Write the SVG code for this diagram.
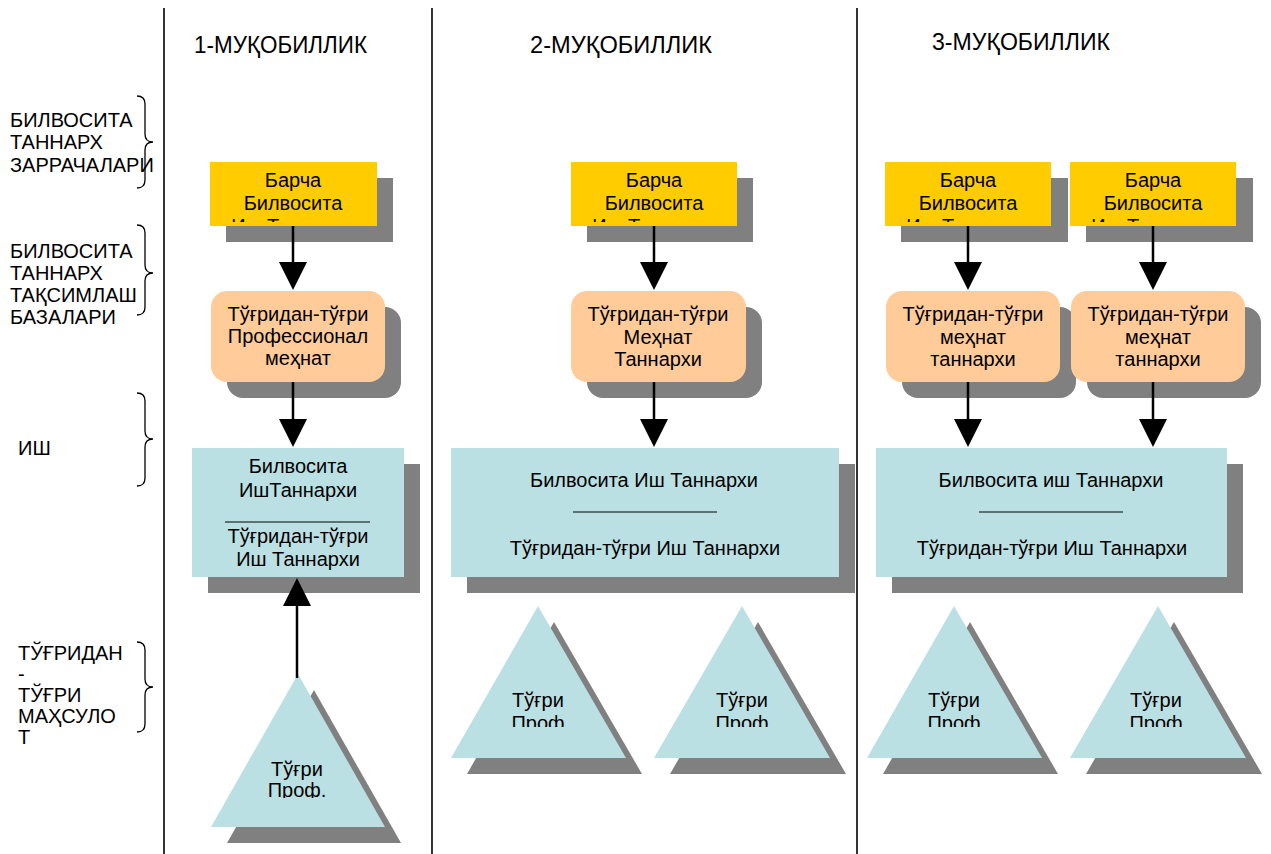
<svg xmlns="http://www.w3.org/2000/svg" width="1271" height="854" viewBox="0 0 1271 854">
  <style>
    text { font-family: "Liberation Sans", Arial, sans-serif; font-size: 20px; fill: #000; }
    .c { text-anchor: middle; }
    .head { font-size: 23px; }
    .sh { fill: #808080; }
    .yel { fill: #FFCC00; }
    .org { fill: #FFCC99; }
    .blu { fill: #BAE0E4; }
    .div { stroke: #000; stroke-width: 1.6; fill: none; }
    .brace { stroke: #000; stroke-width: 1.3; fill: none; }
    .conn { stroke: #000; stroke-width: 2.5; fill: none; marker-end: url(#head); }
  </style>
  <defs>
    <marker id="head" markerUnits="userSpaceOnUse" markerWidth="28" markerHeight="28" refX="23" refY="14" orient="auto" viewBox="0 0 28 28">
      <path d="M0,0 L28,14 L0,28 Z" fill="#000"/>
    </marker>
    <!-- text frames that cut off overflowing lines -->
    <clipPath id="clipYellow" clipPathUnits="userSpaceOnUse"><rect x="0" y="0" width="1271" height="222"/></clipPath>
    <clipPath id="clipTri1" clipPathUnits="userSpaceOnUse"><rect x="0" y="0" width="1271" height="798"/></clipPath>
    <clipPath id="clipTri2" clipPathUnits="userSpaceOnUse"><rect x="0" y="0" width="1271" height="727"/></clipPath>
  </defs>

  <!-- column dividers -->
  <g id="dividers">
    <line class="div" x1="164" y1="8" x2="164" y2="854"/>
    <line class="div" x1="432" y1="8" x2="432" y2="854"/>
    <line class="div" x1="857" y1="8" x2="857" y2="854"/>
  </g>

  <!-- column headings -->
  <g id="headings">
    <text class="head" x="194" y="53" textLength="173" lengthAdjust="spacingAndGlyphs">1-МУҚОБИЛЛИК</text>
    <text class="head" x="530" y="53" textLength="182" lengthAdjust="spacingAndGlyphs">2-МУҚОБИЛЛИК</text>
    <text class="head" x="932" y="50" textLength="178" lengthAdjust="spacingAndGlyphs">3-МУҚОБИЛЛИК</text>
  </g>

  <!-- row labels with braces -->
  <g id="row-particles">
    <text x="10" y="127">БИЛВОСИТА</text>
    <text x="10" y="149">ТАННАРХ</text>
    <text x="10" y="172">ЗАРРАЧАЛАРИ</text>
    <path class="brace" d="M137,96 Q145,96 145,104 L145,134 Q145,142 153,142 Q145,142 145,150 L145,180 Q145,188 137,188"/>
  </g>
  <g id="row-bases">
    <text x="10" y="258">БИЛВОСИТА</text>
    <text x="10" y="280">ТАННАРХ</text>
    <text x="10" y="302">ТАҚСИМЛАШ</text>
    <text x="10" y="324">БАЗАЛАРИ</text>
    <path class="brace" d="M137,225 Q145,225 145,233 L145,265 Q145,273 153,273 Q145,273 145,281 L145,307 Q145,315 137,315"/>
  </g>
  <g id="row-job">
    <text x="18" y="455">ИШ</text>
    <path class="brace" d="M137,393 Q145,393 145,401 L145,431 Q145,439 153,439 Q145,439 145,447 L145,478 Q145,486 137,486"/>
  </g>
  <g id="row-product">
    <text x="18" y="660">ТЎҒРИДАН</text>
    <text x="18" y="681">-</text>
    <text x="18" y="702">ТЎҒРИ</text>
    <text x="18" y="723">МАҲСУЛО</text>
    <text x="18" y="744">Т</text>
    <path class="brace" d="M137,642 Q145,642 145,650 L145,679 Q145,687 153,687 Q145,687 145,695 L145,724 Q145,732 137,732"/>
  </g>

  <!-- ===== alternative 1 ===== -->
  <g id="a1-pool">
    <rect class="sh" x="226" y="178" width="167" height="64"/>
    <rect class="yel" x="210" y="162" width="167" height="64"/>
    <text class="c" x="293" y="187">Барча</text>
    <text class="c" x="293" y="210">Билвосита</text>
    <text class="c" x="293" y="233" clip-path="url(#clipYellow)">Иш Таннархи</text>
  </g>
  <g id="a1-base">
    <rect class="sh" x="227" y="307" width="174" height="91" rx="16"/>
    <rect class="org" x="211" y="291" width="174" height="91" rx="16"/>
    <text class="c" x="298" y="321">Тўғридан-тўғри</text>
    <text class="c" x="298" y="343">Профессионал</text>
    <text class="c" x="298" y="365">меҳнат</text>
  </g>
  <g id="a1-job">
    <rect class="sh" x="208" y="464" width="212" height="129"/>
    <rect class="blu" x="192" y="448" width="212" height="129"/>
    <text class="c" x="298" y="473">Билвосита</text>
    <text class="c" x="298" y="497">ИшТаннархи</text>
    <line x1="225" y1="522" x2="370" y2="522" stroke="#000" stroke-width="1.2"/>
    <text class="c" x="298" y="543">Тўғридан-тўғри</text>
    <text class="c" x="298" y="566">Иш Таннархи</text>
  </g>
  <g id="a1-product">
    <polygon class="sh" points="314,690 401,843 227,843"/>
    <polygon class="blu" points="298,674 385,827 211,827"/>
    <text class="c" x="297" y="776">Тўғри</text>
    <text class="c" x="297" y="797" clip-path="url(#clipTri1)">Проф.</text>
  </g>

  <!-- ===== alternative 2 ===== -->
  <g id="a2-pool">
    <rect class="sh" x="587" y="178" width="166" height="64"/>
    <rect class="yel" x="571" y="162" width="166" height="64"/>
    <text class="c" x="654" y="187">Барча</text>
    <text class="c" x="654" y="210">Билвосита</text>
    <text class="c" x="654" y="233" clip-path="url(#clipYellow)">Иш Таннархи</text>
  </g>
  <g id="a2-base">
    <rect class="sh" x="587" y="307" width="175" height="91" rx="16"/>
    <rect class="org" x="571" y="291" width="175" height="91" rx="16"/>
    <text class="c" x="658" y="321">Тўғридан-тўғри</text>
    <text class="c" x="658" y="344">Меҳнат</text>
    <text class="c" x="658" y="366">Таннархи</text>
  </g>
  <g id="a2-job">
    <rect class="sh" x="467" y="464" width="388" height="129"/>
    <rect class="blu" x="451" y="448" width="388" height="129"/>
    <text class="c" x="644" y="487">Билвосита Иш Таннархи</text>
    <line x1="573" y1="512" x2="717" y2="512" stroke="#000" stroke-width="1.2"/>
    <text class="c" x="645" y="555">Тўғридан-тўғри Иш Таннархи</text>
  </g>
  <g id="a2-product-1">
    <polygon class="sh" points="554,622 642,774 467,774"/>
    <polygon class="blu" points="538,606 626,758 451,758"/>
    <text class="c" x="538" y="707">Тўғри</text>
    <text class="c" x="538" y="730" clip-path="url(#clipTri2)">Проф</text>
  </g>
  <g id="a2-product-2">
    <polygon class="sh" points="758,622 846,774 670,774"/>
    <polygon class="blu" points="742,606 830,758 654,758"/>
    <text class="c" x="742" y="707">Тўғри</text>
    <text class="c" x="742" y="730" clip-path="url(#clipTri2)">Проф</text>
  </g>

  <!-- ===== alternative 3 ===== -->
  <g id="a3-pool-1">
    <rect class="sh" x="901" y="178" width="167" height="64"/>
    <rect class="yel" x="885" y="162" width="166" height="64"/>
    <text class="c" x="968" y="187">Барча</text>
    <text class="c" x="968" y="210">Билвосита</text>
    <text class="c" x="968" y="233" clip-path="url(#clipYellow)">Иш Таннархи</text>
  </g>
  <g id="a3-pool-2">
    <rect class="sh" x="1086" y="178" width="167" height="64"/>
    <rect class="yel" x="1070" y="162" width="166" height="64"/>
    <text class="c" x="1153" y="187">Барча</text>
    <text class="c" x="1153" y="210">Билвосита</text>
    <text class="c" x="1153" y="233" clip-path="url(#clipYellow)">Иш Таннархи</text>
  </g>
  <g id="a3-base-1">
    <rect class="sh" x="902" y="307" width="174" height="91" rx="16"/>
    <rect class="org" x="886" y="291" width="174" height="91" rx="16"/>
    <text class="c" x="973" y="321">Тўғридан-тўғри</text>
    <text class="c" x="973" y="344">меҳнат</text>
    <text class="c" x="973" y="366">таннархи</text>
  </g>
  <g id="a3-base-2">
    <rect class="sh" x="1087" y="307" width="174" height="91" rx="16"/>
    <rect class="org" x="1071" y="291" width="174" height="91" rx="16"/>
    <text class="c" x="1158" y="321">Тўғридан-тўғри</text>
    <text class="c" x="1158" y="344">меҳнат</text>
    <text class="c" x="1158" y="366">таннархи</text>
  </g>
  <g id="a3-job">
    <rect class="sh" x="892" y="464" width="351" height="129"/>
    <rect class="blu" x="876" y="448" width="351" height="129"/>
    <text class="c" x="1051" y="487">Билвосита иш Таннархи</text>
    <line x1="979" y1="512" x2="1123" y2="512" stroke="#000" stroke-width="1.2"/>
    <text class="c" x="1052" y="555">Тўғридан-тўғри Иш Таннархи</text>
  </g>
  <g id="a3-product-1">
    <polygon class="sh" points="970,622 1058,774 883,774"/>
    <polygon class="blu" points="954,606 1042,758 867,758"/>
    <text class="c" x="954" y="707">Тўғри</text>
    <text class="c" x="954" y="730" clip-path="url(#clipTri2)">Проф</text>
  </g>
  <g id="a3-product-2">
    <polygon class="sh" points="1174,622 1262,774 1086,774"/>
    <polygon class="blu" points="1158,606 1246,758 1070,758"/>
    <text class="c" x="1156" y="707">Тўғри</text>
    <text class="c" x="1156" y="730" clip-path="url(#clipTri2)">Проф</text>
  </g>

  <!-- connectors -->
  <g id="connectors">
    <line class="conn" x1="293" y1="226" x2="293" y2="285"/>
    <line class="conn" x1="293" y1="382" x2="293" y2="442"/>
    <line class="conn" x1="297" y1="678" x2="297" y2="583"/>
    <line class="conn" x1="654" y1="226" x2="654" y2="285"/>
    <line class="conn" x1="654" y1="382" x2="654" y2="442"/>
    <line class="conn" x1="968" y1="226" x2="968" y2="285"/>
    <line class="conn" x1="968" y1="382" x2="968" y2="442"/>
    <line class="conn" x1="1153" y1="226" x2="1153" y2="285"/>
    <line class="conn" x1="1153" y1="382" x2="1153" y2="442"/>
  </g>
</svg>
